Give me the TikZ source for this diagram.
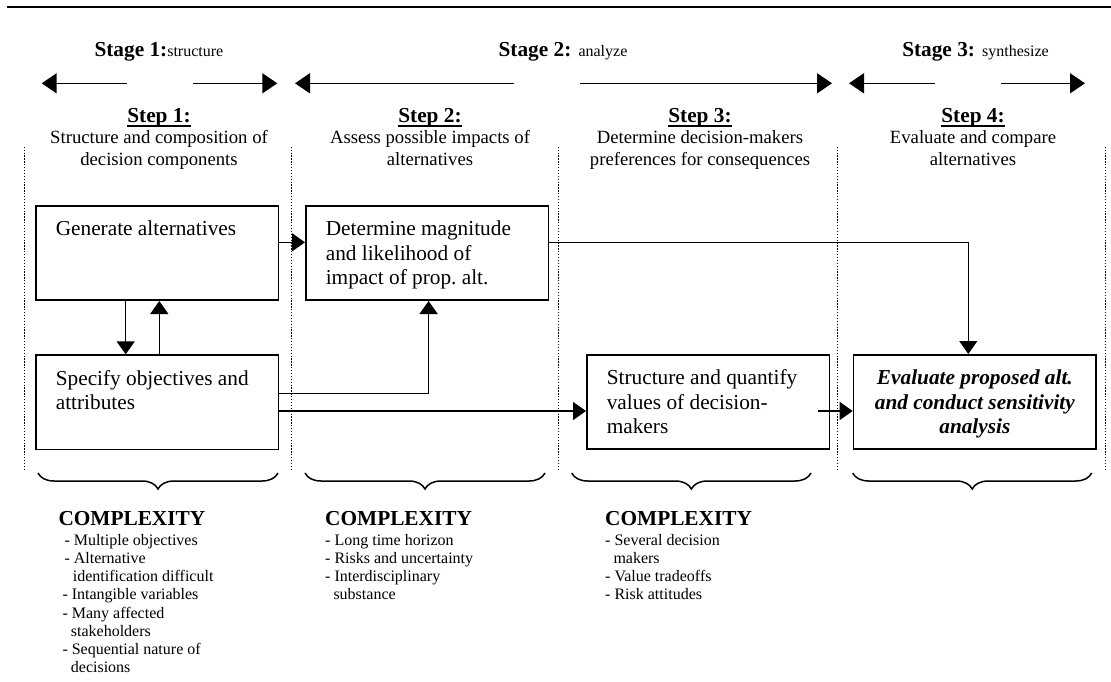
\documentclass[tikz,border=0pt]{standalone}
\usepackage{fontspec}
\setmainfont{Liberation Serif}
\usetikzlibrary{arrows.meta, calc, decorations.pathreplacing}

\newcommand{\boxfont}{\fontsize{21.3}{24.5}\selectfont}
\newcommand{\descfont}{\fontsize{18.7}{21.7}\selectfont}
\newcommand{\smallfont}{\fontsize{16}{18.2}\selectfont}
\newcommand{\boxtext}[1]{\parbox[c][68.4pt][t]{202.7pt}{\raggedright\strut #1}}
\newcommand{\evaltext}[1]{\parbox[c][68.4pt][t]{202.7pt}{\centering\bfseries\itshape\strut #1}}
\newcommand{\stepline}[1]{\setbox0\hbox{#1}\rlap{\rule[-4.1pt]{\wd0}{1.6pt}}\box0}

\tikzset{
  stepbox/.style={draw, line width=1.6pt, inner xsep=20pt, inner ysep=13pt, anchor=north west, font=\boxfont},
  conn/.style={-{Triangle[length=13pt, width=18pt]}, line width=1.5pt},
  stagearrow/.style={-{Triangle[length=15pt, width=20pt]}, line width=1.5pt},
  stagelabel/.style={anchor=base, inner sep=0pt, font=\boxfont},
  steplabel/.style={anchor=base, inner sep=0pt, font=\boxfont\bfseries},
  desc/.style={anchor=north, align=center, inner sep=0pt, font=\descfont},
  colsep/.style={line width=1.3pt, dash pattern=on 1.3pt off 1.6pt},
  bracket/.style={decorate, decoration={brace, amplitude=16pt}, line width=1.5pt},
  cxhead/.style={anchor=base west, inner sep=0pt, font=\boxfont\bfseries},
  cxlist/.style={anchor=north west, align=left, inner sep=0pt, font=\smallfont}
}

\begin{document}
\begin{tikzpicture}[x=1pt, y=-1pt]
  \useasboundingbox (0,0) rectangle (1111,681);
  \draw[line width=2pt] (7,7.3) -- (1111,7.3);

  \node[stagelabel] (stage1) at (158.9,56.7) {\textbf{Stage 1:}{\smallfont structure}};
  \node[stagelabel] (stage2) at (563,56.7) {\textbf{Stage 2:} {\smallfont analyze}};
  \node[stagelabel] (stage3) at (975.5,56.7) {\textbf{Stage 3:} {\smallfont synthesize}};
  \foreach \tail/\tip in {126.7/41.7, 192.7/277.3, 514/295, 580.4/832, 935/849, 1001/1085}
    \draw[stagearrow] (\tail,83.3) -- (\tip,83.3);

  \node[steplabel] (step1) at (159,122.7) {\stepline{Step 1:}};
  \node[steplabel] (step2) at (430,122.7) {\stepline{Step 2:}};
  \node[steplabel] (step3) at (700,122.7) {\stepline{Step 3:}};
  \node[steplabel] (step4) at (973,122.7) {\stepline{Step 4:}};
  \node[desc] (desc1) at (159,128.1) {\strut Structure and composition of\\decision components};
  \node[desc] (desc2) at (430,128.1) {\strut Assess possible impacts of\\alternatives};
  \node[desc] (desc3) at (700,128.1) {\strut Determine decision-makers\\preferences for consequences};
  \node[desc] (desc4) at (973,128.1) {\strut Evaluate and compare\\alternatives};

  \foreach \x in {24.3, 291.7, 558.3, 837.7, 1105.7}
    \draw[colsep] (\x,146.7) -- (\x,469);

  \node[stepbox] (gen) at (35,205) {\boxtext{Generate alternatives}};
  \node[stepbox] (mag) at (305,205) {\boxtext{Determine magnitude\\and likelihood of\\impact of prop.\ alt.}};
  \node[stepbox] (spec) at (35,354.3) {\boxtext{Specify objectives and\\attributes}};
  \node[stepbox] (quant) at (586,354) {\boxtext{Structure and quantify\\values of decision-\\makers}};
  \node[stepbox] (eval) at (852.7,354) {\evaltext{Evaluate proposed alt.\\and conduct sensitivity\\analysis}};

  \coordinate (rowA) at (0,242.3);
  \coordinate (rowB) at (0,393.3);
  \coordinate (rowC) at (0,411);
  \coordinate (colA) at (125.7,0);
  \coordinate (colB) at (159.3,0);
  \coordinate (colC) at (428.6,0);
  \coordinate (colD) at (968.3,0);

  \draw[conn] (gen.south -| colA) -- (spec.north -| colA);
  \draw[conn] (spec.north -| colB) -- (gen.south -| colB);
  \draw[conn] (gen.east |- rowA) -- (mag.west |- rowA);
  \draw[conn, line width=1.2pt] (mag.east |- rowA) -| (eval.north -| colD);
  \draw[conn] (spec.east |- rowB) -| (mag.south -| colC);
  \draw[conn] (spec.east |- rowC) -- (quant.west |- rowC);
  \draw[conn] ($(quant.east |- rowC)+(-12.7,0)$) -- (eval.west |- rowC);

  \foreach \a/\b in {38/278, 305/545, 571.7/811, 852.7/1091.7}
    \draw[bracket] (\b,473) -- (\a,473);

  \node[cxhead] (cx1) at (58.3,525) {COMPLEXITY};
  \node[cxhead] (cx2) at (325,525) {COMPLEXITY};
  \node[cxhead] (cx3) at (605,525) {COMPLEXITY};
  \node[cxlist] (list1) at (62.3,532.3) {\strut\hspace*{2pt}- Multiple objectives\\
    \hspace*{2pt}- Alternative\\
    \hspace*{10.4pt}identification difficult\\
    - Intangible variables\\
    - Many affected\\
    \hspace*{8.4pt}stakeholders\\
    - Sequential nature of\\
    \hspace*{8.4pt}decisions};
  \node[cxlist] (list2) at (325,532.3) {\strut - Long time horizon\\
    - Risks and uncertainty\\
    - Interdisciplinary\\
    \hspace*{8.3pt}substance};
  \node[cxlist] (list3) at (605,532.3) {\strut - Several decision\\
    \hspace*{8.3pt}makers\\
    - Value tradeoffs\\
    - Risk attitudes};
\end{tikzpicture}
\end{document}
